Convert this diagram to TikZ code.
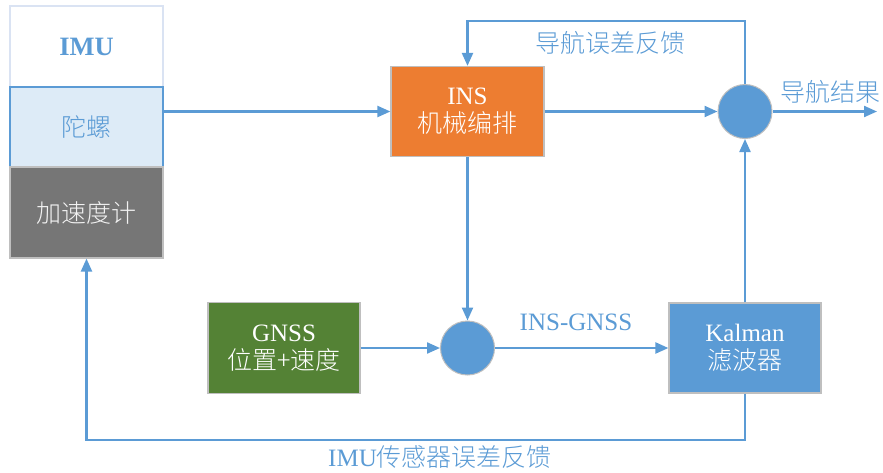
\documentclass[tikz,border=0pt]{standalone}
\usepackage{fontspec}
\setmainfont{Liberation Serif}
\newfontfamily\cjk{Noto Sans CJK SC}[UprightFont=* Light]
\usetikzlibrary{arrows.meta}
\definecolor{lblue}{HTML}{5B9BD5}
\definecolor{gyrofill}{HTML}{DDEBF7}
\definecolor{orng}{HTML}{ED7D31}
\definecolor{grn}{HTML}{548235}
\definecolor{accgray}{HTML}{767676}
\definecolor{bordergray}{HTML}{BFBFBF}
\definecolor{imuborder}{HTML}{DAE3F3}
\tikzset{
  blk/.style={draw=bordergray, line width=1.2pt, minimum width=153pt, minimum height=90pt, align=center, text=white, font=\fontsize{25}{31}\selectfont},
  sumc/.style={circle, draw=bordergray, line width=1pt, fill=lblue, minimum size=54pt, inner sep=0pt},
  arr/.style={draw=lblue, line width=2.2pt, -{Triangle[length=13pt,width=11pt]}},
  lbl/.style={text=lblue, font=\fontsize{25}{30}\selectfont, inner sep=0pt}
}
\begin{document}
\begin{tikzpicture}[x=1pt,y=-1pt]
\useasboundingbox (0,0) rectangle (883,472);
% IMU stack
\node[blk, draw=imuborder, fill=white, minimum height=81pt, text=lblue, font=\fontsize{26.5}{31}\selectfont] (imu) at (86.5,46.5) {\bfseries IMU};
\node[blk, draw=lblue, fill=gyrofill, minimum height=80pt, text=lblue] (gyro) at (86.5,127) {\cjk 陀螺};
\node[blk, fill=accgray, minimum height=91pt, text=white!95!black] (acc) at (86.5,212.5) {\cjk 加速度计};
% main blocks
\node[blk, fill=orng] (ins) at (467.5,111.5) {INS\\[-3pt]{\cjk 机械编排}};
\node[blk, fill=grn, minimum width=152pt, minimum height=91pt] (gnss) at (284,348) {GNSS\\[-3pt]{\cjk 位置+速度}};
\node[blk, fill=lblue, minimum width=152pt] (kal) at (745,348) {Kalman\\[-3pt]{\cjk 滤波器}};
% summing circles
\node[sumc] (c1) at (745,111.5) {};
\node[sumc] (c2) at (467.5,348) {};
% helper coordinates
\coordinate (fbtop) at (745,21);
\coordinate (outp) at (877,111.5);
\coordinate (fbbot) at (745,440);
% connectors
\draw[arr] (ins.west -| gyro.east) -- (ins.west);
\draw[arr] (ins.east) -- (c1.west);
\draw[arr] (c1.north) -- (fbtop) -| (ins.north);
\draw[arr] (c1.east) -- (outp);
\draw[arr] (ins.south) -- (c2.north);
\draw[arr] (gnss.east) -- (c2.west);
\draw[arr] (c2.east) -- (kal.west);
\draw[arr] (kal.north) -- (c1.south);
\draw[arr] (kal.south) -- (fbbot) -| (acc.south);
% labels
\node[lbl] (l1) at (610,43) {\cjk 导航误差反馈};
\node[lbl] (l2) at (830,92) {\cjk 导航结果};
\node[lbl] (l3) at (576,322) {INS-GNSS};
\node[lbl] (l4) at (440,457) {IMU{\cjk 传感器误差反馈}};
\end{tikzpicture}
\end{document}
